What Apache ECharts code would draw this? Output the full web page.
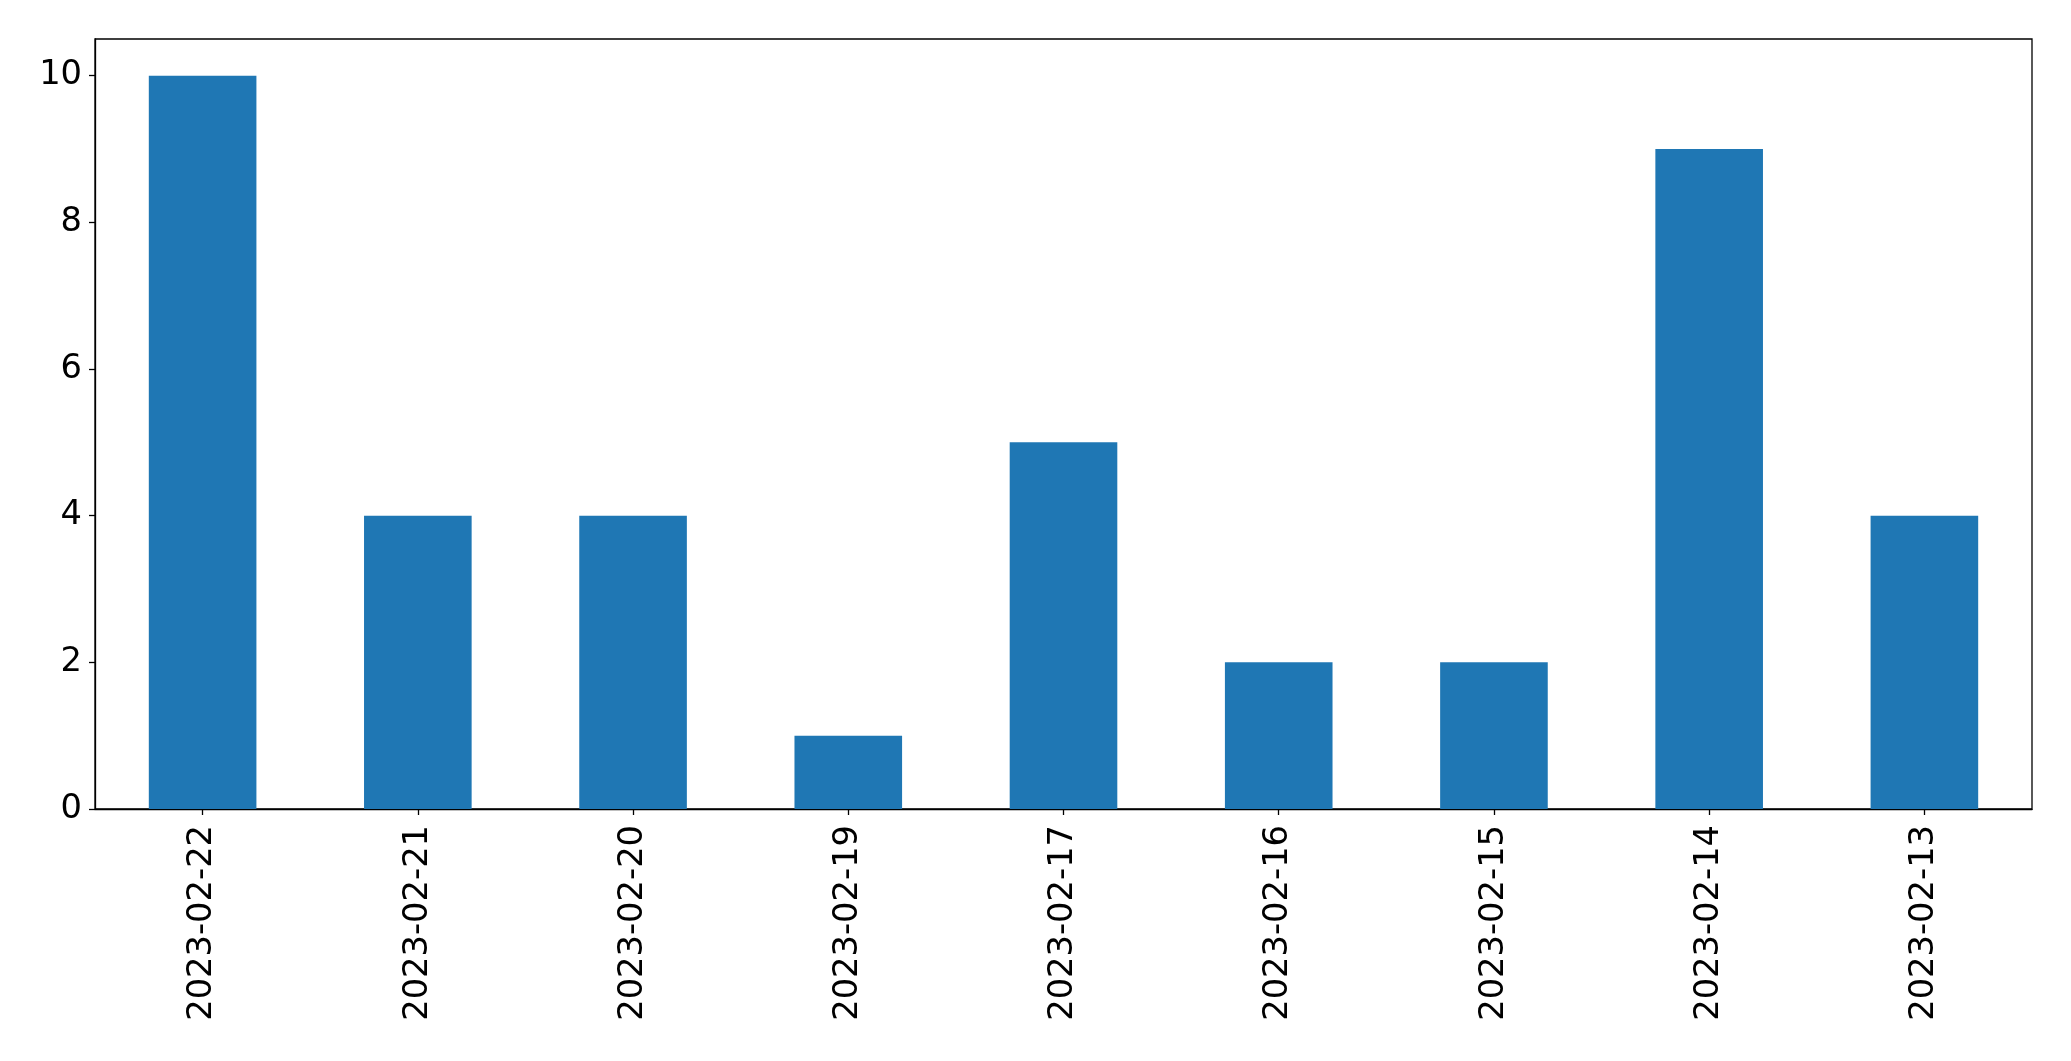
<!DOCTYPE html>
<html>
<head>
<meta charset="utf-8">
<script src="https://cdn.jsdelivr.net/npm/echarts@6/dist/echarts.min.js"></script>
<style>
html,body{margin:0;padding:0;background:#fff;}
#chart{width:2071px;height:1061px;}
</style>
</head>
<body>
<div id="chart"></div>
<script>
const categories = ['2023-02-22','2023-02-21','2023-02-20','2023-02-19','2023-02-17','2023-02-16','2023-02-15','2023-02-14','2023-02-13'];
const values = [10, 4, 4, 1, 5, 2, 2, 9, 4];
const yTicks = [0, 2, 4, 6, 8, 10];

const chart = echarts.init(document.getElementById('chart'), null, {renderer:'canvas'});
const font = 'DejaVu Sans';
chart.setOption({
  animation: false,
  backgroundColor: '#ffffff',
  grid: {left: 95, top: 39, right: 39, bottom: 252, show: true, borderColor: '#000', borderWidth: 1.3, containLabel: false},
  xAxis: {
    type: 'category',
    data: categories,
    boundaryGap: true,
    axisLine: {show: true, lineStyle: {color: '#000', width: 1.3}},
    axisTick: {show: true, alignWithLabel: true, length: 6, lineStyle: {color: '#000', width: 1.3}},
    axisLabel: {rotate: 90, margin: 16, fontFamily: font, fontSize: 33.7, color: '#000', interval: 0},
    splitLine: {show: false}
  },
  yAxis: {
    type: 'value',
    min: 0, max: 10.5,
    axisLine: {show: true, lineStyle: {color: '#000', width: 1.3}},
    axisTick: {show: true, length: 6, customValues: yTicks, lineStyle: {color: '#000', width: 1.3}},
    axisLabel: {margin: 13, fontFamily: font, fontSize: 33.7, color: '#000', customValues: yTicks},
    splitLine: {show: false}
  },
  series: [{
    type: 'bar',
    data: values,
    barWidth: '50%',
    itemStyle: {color: '#1f77b4'}
  }]
});
</script>
</body>
</html>
